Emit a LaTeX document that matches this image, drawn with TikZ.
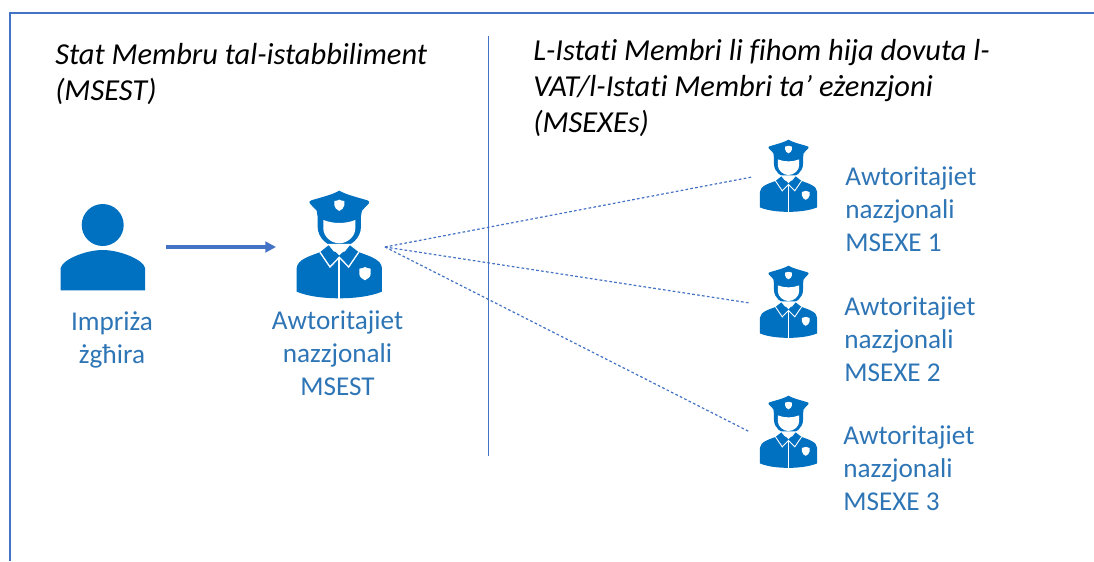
\documentclass[tikz,border=0pt]{standalone}
\usepackage{fontspec}
\setmainfont[Ligatures=NoCommon]{Carlito}
\usetikzlibrary{arrows.meta}
\definecolor{iconblue}{HTML}{0070C0}
\definecolor{labelblue}{HTML}{2E75B6}
\definecolor{lineblue}{HTML}{4472C4}
\tikzset{
  titletext/.style={anchor=north west,inner sep=0pt,align=left,text=black,font=\fontsize{22.85}{27}\selectfont\itshape},
  labeltext/.style={anchor=north,inner sep=0pt,align=center,text=labelblue,font=\fontsize{20.4}{24.75}\selectfont},
  sidelabel/.style={labeltext,anchor=north west,align=left},
  frameline/.style={draw=lineblue,line width=1.5pt},
  divider/.style={draw=lineblue,line width=0.7pt},
  mainarrow/.style={draw=lineblue,line width=2.6pt,-{Triangle[length=8pt,width=8pt]}},
  dotline/.style={draw=lineblue,line width=0.9pt,dash pattern=on 2pt off 1.7pt},
}
\newcommand{\policeicon}[3]{%
\begin{scope}[shift={(#1,#2)},scale=#3/3,xshift=-208*0.75pt,yshift=220*0.75pt]
  % body
  \fill[iconblue] (80,295) .. controls (82,268) and (120,258) .. (155,245) -- (262,245)
    .. controls (297,258) and (335,268) .. (336,295) -- (336,365)
    .. controls (300,380) and (250,385) .. (208,385) .. controls (165,385) and (115,380) .. (80,365) -- cycle;
  % head ring
  \fill[iconblue] (143,130) -- (143,170) .. controls (143,205) and (175,232) .. (208,232)
    .. controls (241,232) and (273,205) .. (273,170) -- (273,130) -- cycle;
  % white face
  \fill[white] (160,150) .. controls (190,162) and (226,162) .. (256,150) -- (256,175)
    .. controls (256,200) and (232,220) .. (208,220) .. controls (184,220) and (160,200) .. (160,175) -- cycle;
  % neck gap and collars
  \fill[white] (172,222) -- (244,222) -- (208,256) -- cycle;
  \fill[iconblue] (176,226) -- (205,262) -- (180,287) -- (152,245) -- cycle;
  \fill[iconblue] (240,226) -- (211,262) -- (236,287) -- (264,245) -- cycle;
  \draw[white,line width=#3*1pt] (150,247) -- (180,291) -- (208,262) -- (236,291) -- (266,247);
  \draw[white,line width=#3*1.4pt] (208,262) -- (208,387);
  % chest badge
  \fill[white] (268,296) .. controls (278,296) and (280,293) .. (285,291) .. controls (290,293) and (292,296) .. (302,296)
    -- (302,312) .. controls (302,322) and (292,327) .. (285,331) .. controls (278,327) and (268,322) .. (268,312) -- cycle;
  % cap
  \fill[iconblue] (208,62) .. controls (228,74) and (262,82) .. (292,91)
    .. controls (298,93) and (300,97) .. (296,101) -- (276,122) -- (273,138)
    .. controls (235,160) and (181,160) .. (143,138) -- (140,122) -- (120,101)
    .. controls (116,97) and (118,93) .. (124,91) .. controls (154,82) and (188,74) .. (208,62) -- cycle;
  % cap badge
  \fill[white] (193,93) .. controls (200,93) and (204,91) .. (208,89) .. controls (212,91) and (216,93) .. (223,93)
    -- (223,106) .. controls (223,114) and (215,119) .. (208,123) .. controls (201,119) and (193,114) .. (193,106) -- cycle;
\end{scope}}
\begin{document}
\begin{tikzpicture}[x=0.75pt,y=-0.75pt]
\useasboundingbox (0,0) rectangle (1094,561);
% frame and divider
\draw[frameline] (10,561) -- (10,13) -- (1094,13);
\coordinate (divtop) at (488,36);
\coordinate (divbot) at (488,456);
\draw[divider] (divtop) -- (divbot);
% titles
\node[titletext] (titleleft) at (55,43) {Stat Membru tal-istabbiliment\\(MSEST)};
\node[titletext] (titleright) at (533,39) {L-Istati Membri li fihom hija dovuta l-\\VAT/l-Istati Membri ta’ eżenzjoni\\(MSEXEs)};
% person icon
\fill[iconblue] (102.7,225) circle[radius=21];
\fill[iconblue] (60.7,290.3) -- (60.7,268) .. controls (62,260) and (85,250) .. (102.7,250)
  .. controls (120,250) and (144,260) .. (145,268) -- (145,290.3) -- cycle;
\node[labeltext] (firm) at (112,311) {Impriża\\żgħira};
% police icons
\policeicon{339.3}{243.3}{1}
\policeicon{788.5}{175}{0.67}
\policeicon{788.5}{301}{0.67}
\policeicon{788.5}{431}{0.67}
\node[labeltext] (authmain) at (337.5,311) {Awtoritajiet\\nazzjonali\\MSEST};
\node[sidelabel] (auth1) at (845,167) {Awtoritajiet\\nazzjonali\\MSEXE 1};
\node[sidelabel] (auth2) at (844,297) {Awtoritajiet\\nazzjonali\\MSEXE 2};
\node[sidelabel] (auth3) at (843,426) {Awtoritajiet\\nazzjonali\\MSEXE 3};
% connectors
\coordinate (arrowstart) at (166,247);
\coordinate (arrowend) at (276,247);
\coordinate (hub) at (385,247);
\coordinate (end1) at (752,177);
\coordinate (end2) at (750,303);
\coordinate (end3) at (750,432);
\draw[mainarrow] (arrowstart) -- (arrowend);
\draw[dotline] (hub) -- (end1);
\draw[dotline] (hub) -- (end2);
\draw[dotline] (hub) -- (end3);
\end{tikzpicture}
\end{document}
